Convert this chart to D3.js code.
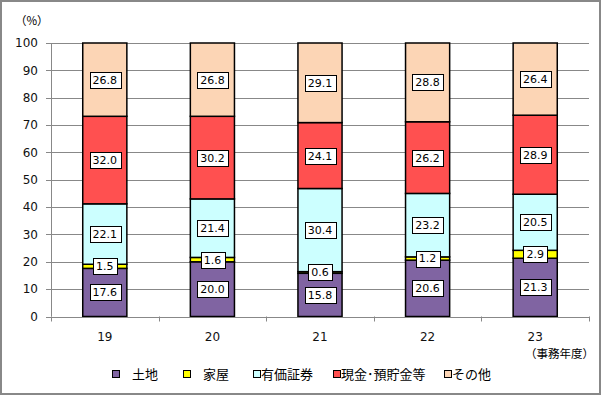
<!DOCTYPE html>
<html>
<head>
<meta charset="utf-8">
<script src="https://cdn.jsdelivr.net/npm/d3@7"></script>
<style>
  body { margin: 0; background: #fff; }
  svg text { font-family: "DejaVu Sans", Verdana, sans-serif; }
</style>
</head>
<body>
<div id="chart"></div>
<script>
// data
var years = ["19", "20", "21", "22", "23"];
var seriesNames = ["土地", "家屋", "有価証券", "現金･預貯金等", "その他"];
var seriesColors = ["#8064A2", "#FFFF00", "#CCFFFF", "#FF5050", "#FCD5B5"];
var land = [17.6, 20.0, 15.8, 20.6, 21.3];
var house = [1.5, 1.6, 0.6, 1.2, 2.9];
var securities = [22.1, 21.4, 30.4, 23.2, 20.5];
var cash = [32.0, 30.2, 24.1, 26.2, 28.9];
var other = [26.8, 26.8, 29.1, 28.8, 26.4];
var yTicks = [0, 10, 20, 30, 40, 50, 60, 70, 80, 90, 100];

var W = 604, H = 396;
var margin = { top: 43, right: 15, bottom: 80, left: 51 };
var width = 589 - margin.left;
var height = 316.5 - margin.top;

var svg = d3.select("#chart").append("svg")
  .attr("width", W)
  .attr("height", H);

// outer frame
svg.append("rect")
  .attr("x", 1).attr("y", 1)
  .attr("width", 599).attr("height", 393)
  .attr("fill", "#fff")
  .attr("stroke", "#888")
  .attr("stroke-width", 2);

var g = svg.append("g")
  .attr("transform", "translate(" + margin.left + "," + margin.top + ")");

var x = d3.scaleBand().domain(years).range([0, width]).paddingInner(0.59).paddingOuter(0.295);
var xb = d3.scaleBand().domain(years).range([0, width]);
var y = d3.scaleLinear().domain([0, 100]).range([height, 0]);

// gridlines
g.selectAll(".grid")
  .data(yTicks)
  .enter()
  .append("line")
  .attr("x1", -5)
  .attr("x2", width)
  .attr("y1", function (d) { return Math.round(y(d)) + 0.5; })
  .attr("y2", function (d) { return Math.round(y(d)) + 0.5; })
  .attr("stroke", "#888")
  .attr("stroke-width", 1);

// y axis line
g.append("line")
  .attr("x1", 0.5).attr("x2", 0.5)
  .attr("y1", y(100)).attr("y2", y(0))
  .attr("stroke", "#888");

g.selectAll(".ylab")
  .data(yTicks)
  .enter()
  .append("text")
  .attr("x", -13)
  .attr("y", function (d) { return y(d); })
  .attr("dy", "0.36em")
  .attr("text-anchor", "end")
  .attr("font-size", 12)
  .attr("fill", "#111")
  .text(function (d) { return d; });

// x axis ticks at category boundaries
var bounds = years.map(function (d) { return xb(d); }).concat([width]);
g.selectAll(".xtick")
  .data(bounds)
  .enter()
  .append("line")
  .attr("x1", function (d) { return Math.round(d) + 0.5; })
  .attr("x2", function (d) { return Math.round(d) + 0.5; })
  .attr("y1", height)
  .attr("y2", height + 5)
  .attr("stroke", "#888");

g.selectAll(".xlab")
  .data(years)
  .enter()
  .append("text")
  .attr("x", function (d) { return xb(d) + xb.bandwidth() / 2; })
  .attr("y", height + 24)
  .attr("text-anchor", "middle")
  .attr("font-size", 12)
  .attr("fill", "#111")
  .text(function (d) { return d; });

// stack
var table = years.map(function (yr, i) {
  return { year: yr, s0: land[i], s1: house[i], s2: securities[i], s3: cash[i], s4: other[i] };
});
var stack = d3.stack().keys(["s0", "s1", "s2", "s3", "s4"]);
var layers = stack(table);

var layerG = g.selectAll(".layer")
  .data(layers)
  .enter()
  .append("g")
  .attr("fill", function (d, i) { return seriesColors[i]; });

layerG.selectAll("rect")
  .data(function (d) { return d; })
  .enter()
  .append("rect")
  .attr("x", function (d) { return x(d.data.year); })
  .attr("y", function (d) { return y(d[1]); })
  .attr("width", x.bandwidth())
  .attr("height", function (d) { return y(d[0]) - y(d[1]); })
  .attr("stroke", "#000")
  .attr("stroke-width", 1.5);

// data labels in white boxes
var labels = g.append("g");
layers.forEach(function (layer) {
  layer.forEach(function (d) {
    var v = d[1] - d[0];
    var cx = x(d.data.year) + x.bandwidth() / 2;
    var cy = y((d[0] + d[1]) / 2);
    var lg = labels.append("g");
    var rect = lg.append("rect").attr("fill", "#fff").attr("stroke", "#000").attr("stroke-width", 1);
    var t = lg.append("text")
      .attr("x", cx)
      .attr("y", cy)
      .attr("dy", "0.36em")
      .attr("text-anchor", "middle")
      .attr("font-size", 11)
      .attr("fill", "#000")
      .text(v.toFixed(1));
    var bb = t.node().getBBox();
    rect.attr("x", Math.round(cx - bb.width / 2 - 3) + 0.5)
      .attr("y", Math.round(cy - 8) + 0.5)
      .attr("width", Math.round(bb.width + 6))
      .attr("height", 16);
  });
});

// x axis line
g.append("line")
  .attr("x1", 0).attr("x2", width)
  .attr("y1", Math.round(height) + 0.5).attr("y2", Math.round(height) + 0.5)
  .attr("stroke", "#888");

// unit labels
svg.append("text")
  .attr("x", 15).attr("y", 25)
  .attr("font-size", 11.5)
  .style("font-family", "'Noto Sans CJK JP', sans-serif")
  .text("（%）");

svg.append("text")
  .attr("x", 594).attr("y", 358)
  .attr("text-anchor", "end")
  .attr("font-size", 11.5)
  .style("font-family", "'Noto Sans CJK JP', sans-serif")
  .text("（事務年度）");

// legend
var legendPos = [
  { mx: 112, tx: 132 },
  { mx: 183, tx: 203 },
  { mx: 253, tx: 261 },
  { mx: 333, tx: 341 },
  { mx: 444, tx: 452 }
];
var legend = svg.append("g");
seriesNames.forEach(function (name, i) {
  legend.append("rect")
    .attr("x", legendPos[i].mx + 0.5)
    .attr("y", 370.5)
    .attr("width", 7)
    .attr("height", 7)
    .attr("fill", seriesColors[i])
    .attr("stroke", "#000");
  legend.append("text")
    .attr("x", legendPos[i].tx)
    .attr("y", 374)
    .attr("dy", "0.36em")
    .attr("font-size", 13)
    .style("font-family", "'Noto Sans CJK JP', sans-serif")
    .text(name);
});
</script>
</body>
</html>
